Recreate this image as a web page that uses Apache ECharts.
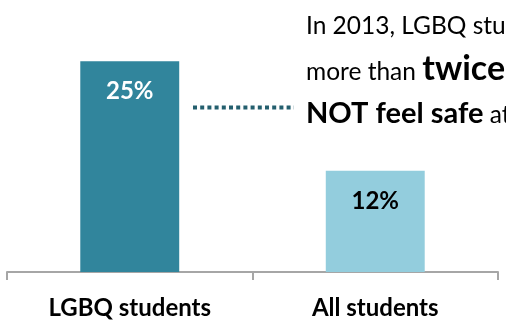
<!DOCTYPE html>
<html>
<head>
<meta charset="utf-8">
<style>
  html, body { margin: 0; padding: 0; background: #fff; }
  #chart { width: 506px; height: 329px; }
</style>
<script src="https://cdn.jsdelivr.net/npm/echarts@6/dist/echarts.min.js"></script>
</head>
<body>
<div id="chart"></div>
<script>
// Share of students who do NOT feel safe at school, 2013
const categories = ['LGBQ students', 'All students'];
const values = [25, 12];
const valueLabels = ['25%', '12%'];
const barColors = ['#31859C', '#93CDDD'];
const labelColors = ['#FFFFFF', '#000000'];

const FONT = 'Lato, "Open Sans", sans-serif';

const chart = echarts.init(document.getElementById('chart'), null, { renderer: 'canvas' });

// measure text widths so mixed-size runs sit next to each other
const measureCtx = document.createElement('canvas').getContext('2d');
function textWidth(str, size, weight) {
  measureCtx.font = weight + ' ' + size + 'px ' + FONT;
  return measureCtx.measureText(str).width;
}

// callout text: each run = [text, size, weight]; baseline in px
const calloutLines = [
  { baseline: 36, runs: [['In 2013, LGBQ students were', 24.5, 'normal']] },
  { baseline: 82, runs: [['more than ', 24.5, 'normal'], ['twice', 34, 'bold'], [' as likely to', 24.5, 'normal']] },
  { baseline: 125, runs: [['NOT feel safe', 29, 'bold'], [' at school.', 24.5, 'normal']] }
];

function buildCallout() {
  const els = [];
  const x0 = 306;
  calloutLines.forEach(line => {
    let x = x0;
    line.runs.forEach(([txt, size, weight]) => {
      els.push({
        type: 'text',
        position: [x, line.baseline - 0.387 * size],
        style: {
          text: txt,
          x: 0, y: 0,
          font: weight + ' ' + size + 'px ' + FONT,
          fill: '#000',
          verticalAlign: 'middle',
          align: 'left'
        },
        silent: true
      });
      x += textWidth(txt, size, weight);
    });
  });
  return els;
}

const option = {
  animation: false,
  grid: { left: 7, right: 8, top: 19, bottom: 57, containLabel: false },
  xAxis: {
    type: 'category',
    data: categories,
    boundaryGap: true,
    axisLine: { show: true, lineStyle: { color: '#A6A6A6', width: 2 } },
    axisTick: { show: true, length: 8, alignWithLabel: false, lineStyle: { color: '#A6A6A6', width: 2 } },
    axisLabel: {
      margin: 24,
      fontFamily: FONT,
      fontWeight: 'bold',
      fontSize: 24,
      color: '#000'
    }
  },
  yAxis: {
    type: 'value',
    min: 0, max: 30,
    show: false,
    splitLine: { show: false }
  },
  series: [{
    type: 'bar',
    barWidth: '40.3%',
    data: values.map((v, i) => ({
      value: v,
      itemStyle: { color: barColors[i] },
      label: {
        show: true,
        position: 'insideTop',
        distance: 18,
        formatter: valueLabels[i],
        color: labelColors[i],
        fontFamily: FONT,
        fontWeight: 'bold',
        fontSize: 24
      }
    }))
  }],
  graphic: [
    {
      type: 'line',
      shape: { x1: 193, y1: 107.5, x2: 294, y2: 107.5 },
      style: { stroke: '#245F6E', lineWidth: 4, lineDash: [4, 3.2] },
      silent: true
    }
  ].concat(buildCallout())
};

chart.setOption(option);
</script>
</body>
</html>
